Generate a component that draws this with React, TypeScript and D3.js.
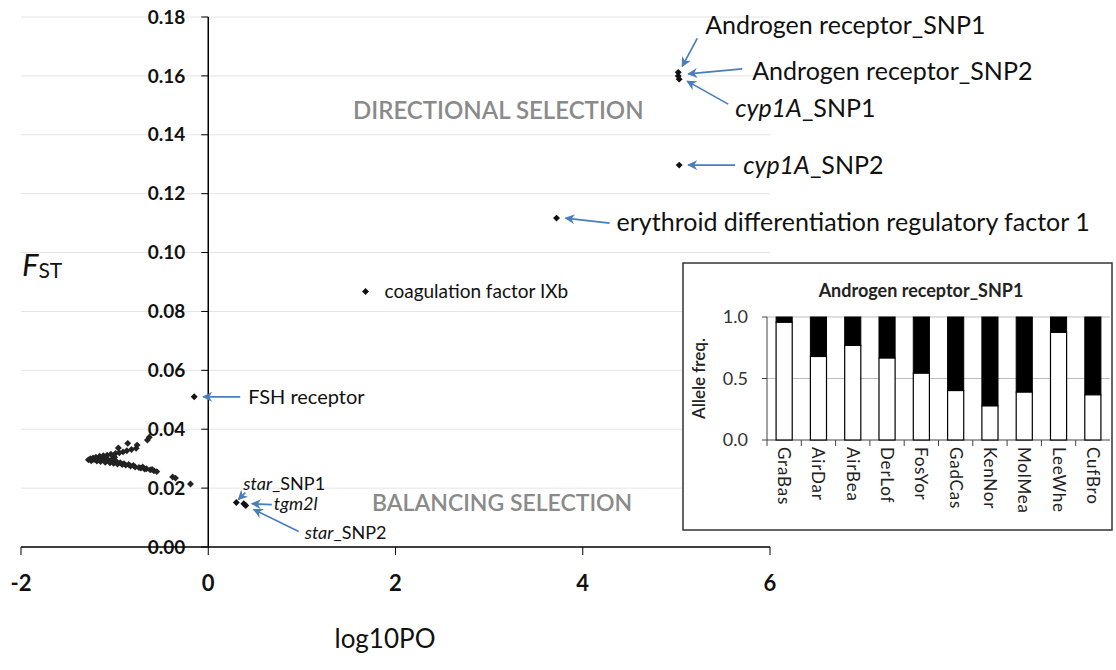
import React from 'react';
import * as d3 from 'd3';

const W = 1116;
const H = 670;

// outlier loci (labelled)
const outlierNames = [
  'Androgen receptor_SNP1',
  'Androgen receptor_SNP2',
  'cyp1A_SNP1',
  'cyp1A_SNP2',
  'erythroid differentiation regulatory factor 1',
  'coagulation factor IXb',
  'FSH receptor',
  'star_SNP1',
  'tgm2l',
  'star_SNP2',
];
const outlierPO = [5.02, 5.02, 5.03, 5.03, 3.72, 1.68, -0.15, 0.3, 0.38, 0.4];
const outlierFst = [0.1612, 0.16, 0.1589, 0.1297, 0.1117, 0.0868, 0.051, 0.0151, 0.0147, 0.0141];

// neutral loci (the cloud on the left)
const neutralPO = [
  -1.28, -1.26, -1.25, -1.23, -1.22, -1.2, -1.19, -1.17, -1.16, -1.15, -1.13, -1.12, -1.1, -1.09,
  -1.08, -1.06, -1.05, -1.04, -1.02, -1.01, -0.99, -0.98, -0.97, -0.95, -0.94, -0.92, -0.91, -0.9,
  -0.88, -0.87, -0.86, -0.85, -0.83, -0.82, -0.8, -0.78, -0.77, -0.76, -0.74, -0.72, -0.7, -0.68,
  -0.66, -0.65, -0.63, -0.62, -0.6, -0.58, -0.55, -0.38, -0.35, -0.19, -0.96, -1.0, -1.11, -1.18,
  -1.24, -1.14, -1.07, -1.03,
];
const neutralFst = [
  0.0296, 0.03, 0.0293, 0.0302, 0.0297, 0.0305, 0.0292, 0.0301, 0.0308, 0.029, 0.0298, 0.031, 0.0288, 0.0303,
  0.0312, 0.0292, 0.0286, 0.0315, 0.03, 0.0284, 0.0318, 0.029, 0.0282, 0.032, 0.0286, 0.028, 0.0323, 0.0283,
  0.0278, 0.0327, 0.0352, 0.028, 0.0275, 0.0331, 0.0277, 0.0272, 0.0335, 0.0346, 0.027, 0.0268, 0.0272, 0.0265,
  0.0266, 0.0363, 0.0373, 0.0262, 0.0263, 0.0259, 0.0256, 0.0238, 0.0234, 0.0214, 0.0336, 0.0305, 0.0296, 0.0296,
  0.0299, 0.0295, 0.0294, 0.0291,
];

const xTicks = [-2, 0, 2, 4, 6];
const yTicks = [0, 0.02, 0.04, 0.06, 0.08, 0.1, 0.12, 0.14, 0.16, 0.18];

// inset: allele frequencies per population
const pops = ['GraBas', 'AirDar', 'AirBea', 'DerLof', 'FosYor', 'GadCas', 'KenNor', 'MolMea', 'LeeWhe', 'CufBro'];
const alleleFreq = [0.957, 0.679, 0.769, 0.666, 0.543, 0.402, 0.277, 0.389, 0.875, 0.367];
const insetTicks = [0, 0.5, 1];

// label placement, offsets in px from the point
const labelLayout = [
  { lx: 27, ly: -38, fs: 25, ital: 0, arrow: [19, -34, 4, -6] },
  { lx: 74, ly: 4, fs: 25, ital: 0, arrow: [64, -7, 10, -2] },
  { lx: 56, ly: 38, fs: 25, ital: 5, arrow: [49, 25, 8, 2] },
  { lx: 64, ly: 9, fs: 25, ital: 5, arrow: [56, 0, 9, 0] },
  { lx: 60, ly: 13, fs: 25, ital: 0, arrow: [53, 5, 9, 0] },
  { lx: 19, ly: 7, fs: 19, ital: 0, arrow: null },
  { lx: 54, ly: 7, fs: 20, ital: 0, arrow: [46, 0, 9, 0] },
  { lx: 7, ly: -13, fs: 18, ital: 4, arrow: [9, -10, 2, -3] },
  { lx: 30, ly: 6, fs: 18, ital: 5, arrow: [28, 1, 8, 0] },
  { lx: 59, ly: 34, fs: 18, ital: 4, arrow: [53, 26, 8, 4] },
];

const FONT = 'Lato, "Open Sans", sans-serif';
const ARROW = '#4a7ebb';

export default function App() {
  const x = d3.scaleLinear().domain([-2, 6]).range([21, 770]);
  const y = d3.scaleLinear().domain([0, 0.18]).range([547, 17]);
  const diamond = d3.symbol(d3.symbolSquare, 24)() as string;

  const ix = d3.scaleBand<string>().domain(pops).range([767, 1110]);
  const iy = d3.scaleLinear().domain([0, 1]).range([440, 317]);
  const barW = ix.bandwidth() * 0.47;

  return (
    <svg width={W} height={H} style={{ position: 'absolute', left: 0, top: 0, background: '#fff' }} fontFamily={FONT}>
      <defs>
        <marker id="ah" viewBox="0 0 10 10" refX="9" refY="5" markerWidth="10" markerHeight="10" orient="auto-start-reverse" markerUnits="userSpaceOnUse">
          <path d="M0,0 L10,5 L0,10 L3,5 Z" fill={ARROW} />
        </marker>
      </defs>

      {/* gridlines */}
      {yTicks.filter((t) => t > 0).map((t) => (
        <line key={'g' + t} x1={x(-2)} x2={x(6)} y1={y(t)} y2={y(t)} stroke="#e4e4e4" strokeWidth={1} />
      ))}

      {/* y axis */}
      {yTicks.map((t) => (
        <g key={'yt' + t}>
          <line x1={x(0) - 7} x2={x(0)} y1={y(t)} y2={y(t)} stroke="#000" />
          <text x={x(0) - 23} y={y(t)} dy="0.35em" textAnchor="end" fontSize={19} fontWeight="bold" fill="#111">
            {d3.format('.2f')(t)}
          </text>
        </g>
      ))}
      <line x1={x(0)} x2={x(0)} y1={y(0)} y2={y(0.18)} stroke="#000" strokeWidth={1.5} />

      {/* x axis */}
      <line x1={x(-2)} x2={x(6)} y1={y(0)} y2={y(0)} stroke="#000" strokeWidth={1.5} />
      {xTicks.map((t) => (
        <g key={'xt' + t}>
          <line x1={x(t)} x2={x(t)} y1={y(0)} y2={y(0) + 8} stroke="#000" />
          <text x={x(t)} y={y(0) + 44} textAnchor="middle" fontSize={22} fontWeight="bold" fill="#111">
            {t}
          </text>
        </g>
      ))}

      {/* axis titles */}
      <text x={22} y={276} fill="#111">
        <tspan fontSize={31} fontStyle="italic">F</tspan>
        <tspan fontSize={21} dy={2}>ST</tspan>
      </text>
      <text x={385} y={648} textAnchor="middle" fontSize={26} fill="#111">log10PO</text>

      {/* region captions */}
      <text x={353} y={119} fontSize={24} fontWeight={600} fill="#8a8a8a">DIRECTIONAL SELECTION</text>
      <text x={372} y={511} fontSize={23} fontWeight={600} fill="#8a8a8a">BALANCING SELECTION</text>

      {/* neutral points */}
      {neutralPO.map((v, i) => (
        <path key={'n' + i} d={diamond} transform={`translate(${x(v)},${y(neutralFst[i])}) rotate(45)`} fill="#222" />
      ))}

      {/* outliers with labels */}
      {outlierPO.map((v, i) => {
        const px = x(v);
        const py = y(outlierFst[i]);
        const L = labelLayout[i];
        const name = outlierNames[i];
        return (
          <g key={'o' + i}>
            <path d={diamond} transform={`translate(${px},${py}) rotate(45)`} fill="#111" />
            {L.arrow && (
              <line
                x1={px + L.arrow[0]}
                y1={py + L.arrow[1]}
                x2={px + L.arrow[2]}
                y2={py + L.arrow[3]}
                stroke={ARROW}
                strokeWidth={1.7}
                markerEnd="url(#ah)"
              />
            )}
            <text x={px + L.lx} y={py + L.ly} fontSize={L.fs} fill="#111">
              {L.ital > 0 && <tspan fontStyle="italic">{name.slice(0, L.ital)}</tspan>}
              <tspan>{name.slice(L.ital)}</tspan>
            </text>
          </g>
        );
      })}

      {/* inset */}
      <g>
        <rect x={683} y={263} width={429} height={267} fill="#fff" stroke="#333" strokeWidth={1.5} />
        <text x={921} y={297} textAnchor="middle" fontSize={18} fontWeight="bold" fill="#222">
          Androgen receptor_SNP1
        </text>
        {insetTicks.map((t) => (
          <g key={'it' + t}>
            {t > 0 && <line x1={ix.range()[0]} x2={ix.range()[1]} y1={iy(t)} y2={iy(t)} stroke="#bdbdbd" />}
            <line x1={ix.range()[0] - 5} x2={ix.range()[0]} y1={iy(t)} y2={iy(t)} stroke="#444" />
            <text x={748} y={iy(t)} dy="0.35em" textAnchor="end" fontSize={18} fill="#333">
              {d3.format('.1f')(t)}
            </text>
          </g>
        ))}
        <line x1={ix.range()[0]} x2={ix.range()[0]} y1={iy(0)} y2={iy(1)} stroke="#444" />
        <line x1={ix.range()[0]} x2={ix.range()[1]} y1={iy(0)} y2={iy(0)} stroke="#444" />
        <text transform={`translate(705,${(iy(0) + iy(1)) / 2}) rotate(-90)`} textAnchor="middle" fontSize={17} fontWeight={600} fill="#222">
          Allele freq.
        </text>
        {pops.map((p, i) => {
          const bx = (ix(p) as number) + (ix.bandwidth() - barW) / 2;
          const cx = (ix(p) as number) + ix.bandwidth() / 2;
          return (
            <g key={p}>
              <line x1={ix(p) as number} x2={ix(p) as number} y1={iy(0)} y2={iy(0) + 6} stroke="#444" />
              <rect x={bx} y={iy(1)} width={barW} height={iy(alleleFreq[i]) - iy(1)} fill="#000" stroke="#000" />
              <rect x={bx} y={iy(alleleFreq[i])} width={barW} height={iy(0) - iy(alleleFreq[i])} fill="#fff" stroke="#000" strokeWidth={1.2} />
              <text transform={`translate(${cx},${iy(0) + 7}) rotate(90)`} dy="0.35em" fontSize={17} letterSpacing={0.8} fill="#222">
                {p}
              </text>
            </g>
          );
        })}
      </g>
    </svg>
  );
}
